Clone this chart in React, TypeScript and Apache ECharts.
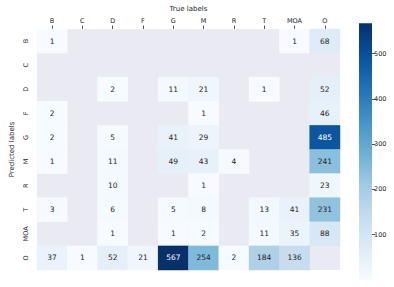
import React, { useEffect, useRef } from "react";
import * as echarts from "echarts";

const trueLabels = ["B", "C", "D", "F", "G", "M", "R", "T", "MOA", "O"];
const predLabels = ["B", "C", "D", "F", "G", "M", "R", "T", "MOA", "O"];

// rows = predicted, columns = true; 0 = empty cell
const rowB = [1, 0, 0, 0, 0, 0, 0, 0, 1, 68];
const rowC = [0, 0, 0, 0, 0, 0, 0, 0, 0, 0];
const rowD = [0, 0, 2, 0, 11, 21, 0, 1, 0, 52];
const rowF = [2, 0, 0, 0, 0, 1, 0, 0, 0, 46];
const rowG = [2, 0, 5, 0, 41, 29, 0, 0, 0, 485];
const rowM = [1, 0, 11, 0, 49, 43, 4, 0, 0, 241];
const rowR = [0, 0, 10, 0, 0, 1, 0, 0, 0, 23];
const rowT = [3, 0, 6, 0, 5, 8, 0, 13, 41, 231];
const rowMOA = [0, 0, 1, 0, 1, 2, 0, 11, 35, 88];
const rowO = [37, 1, 52, 21, 567, 254, 2, 184, 136, 0];
const rows = [rowB, rowC, rowD, rowF, rowG, rowM, rowR, rowT, rowMOA, rowO];

const colorMin = 0;
const colorMax = 567;
const colorTicks = [100, 200, 300, 400, 500];

const blues = ["#f7fbff", "#deebf7", "#c6dbef", "#9ecae1", "#6baed6", "#4292c6", "#2171b5", "#08519c", "#08306b"];

export default function App() {
  const ref = useRef<HTMLDivElement>(null);
  useEffect(() => {
    const chart = echarts.init(ref.current!, undefined, { renderer: "svg" });
    const data: any[] = [];
    rows.forEach((row, yi) => {
      row.forEach((v, xi) => {
        if (v > 0) {
          data.push({
            value: [xi, yi, v],
            label: { color: v > 400 ? "#ffffff" : "#262626" },
          });
        }
      });
    });
    const font = "DejaVu Sans";
    chart.setOption({
      animation: false,
      backgroundColor: "#ffffff",
      textStyle: { fontFamily: font },
      grid: [
        { left: 25, top: 23.3, right: 54, bottom: 17, show: true, backgroundColor: "#eaeaf2", borderWidth: 0 },
        { left: 359, top: 23.3, width: 13, height: 256.5, show: false },
      ],
      xAxis: [
        {
          type: "category",
          gridIndex: 0,
          data: trueLabels,
          position: "top",
          name: "True labels",
          nameLocation: "middle",
          nameGap: 17,
          nameTextStyle: { fontSize: 7, color: "#262626", fontFamily: font },
          axisLine: { show: false },
          axisTick: { show: true, alignWithLabel: true, length: 3.5, lineStyle: { color: "#262626", width: 0.8 } },
          axisLabel: { fontSize: 6.5, color: "#262626", margin: 5, fontFamily: font },
          splitLine: { show: false },
        },
        {
          type: "category",
          gridIndex: 1,
          data: ["c"],
          show: false,
        },
      ],
      yAxis: [
        {
          type: "category",
          gridIndex: 0,
          data: predLabels,
          inverse: true,
          name: "Predicted labels",
          nameLocation: "middle",
          nameGap: 17,
          nameTextStyle: { fontSize: 7, color: "#262626", fontFamily: font },
          axisLine: { show: false },
          axisTick: { show: false },
          axisLabel: { fontSize: 6.5, color: "#262626", rotate: 90, margin: 7, fontFamily: font },
          splitLine: { show: false },
        },
        {
          type: "value",
          gridIndex: 1,
          min: colorMin,
          max: colorMax,
          position: "right",
          axisLine: { show: false },
          splitLine: { show: false },
          axisTick: { show: true, length: 3.5, lineStyle: { color: "#262626", width: 0.8 }, customValues: colorTicks },
          axisLabel: { fontSize: 6.5, color: "#262626", margin: 2, fontFamily: font, customValues: colorTicks },
        },
      ],
      visualMap: {
        show: false,
        min: colorMin,
        max: colorMax,
        seriesIndex: 0,
        dimension: 2,
        inRange: { color: blues },
      },
      series: [
        {
          type: "heatmap",
          xAxisIndex: 0,
          yAxisIndex: 0,
          data,
          label: { show: true, fontSize: 7.5, fontFamily: font },
          itemStyle: { borderWidth: 0 },
          emphasis: { disabled: true },
        },
        {
          type: "bar",
          xAxisIndex: 1,
          yAxisIndex: 1,
          data: [colorMax],
          barWidth: "100%",
          silent: true,
          itemStyle: {
            color: new echarts.graphic.LinearGradient(
              0, 1, 0, 0,
              blues.map((c, i) => ({ offset: i / (blues.length - 1), color: c }))
            ),
          },
        },
      ],
    });
    return () => chart.dispose();
  }, []);
  return <div ref={ref} style={{ width: 394, height: 287, position: "absolute", left: 0, top: 0 }} />;
}
